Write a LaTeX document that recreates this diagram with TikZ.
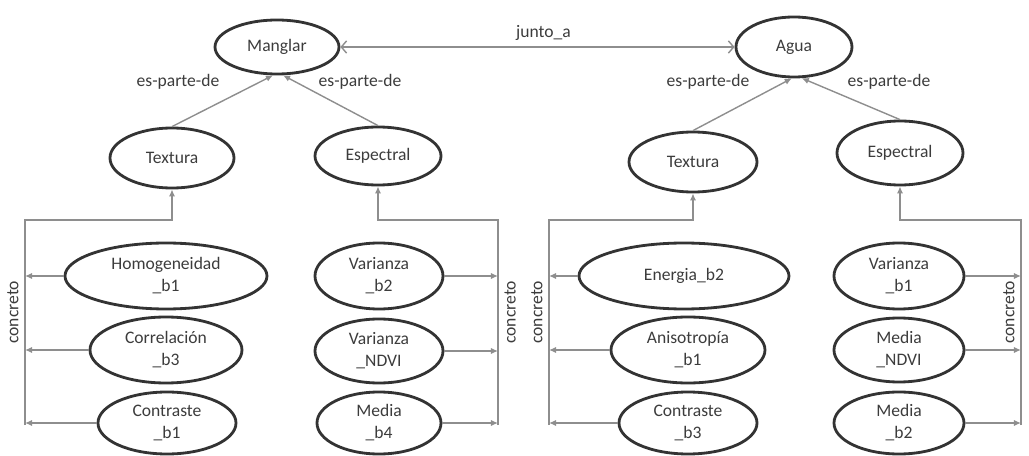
\documentclass[tikz,border=0pt]{standalone}
\usepackage{fontspec}
\setmainfont{Carlito}
\usetikzlibrary{arrows.meta, shapes.geometric, positioning}
\definecolor{ink}{HTML}{3C3C3C}
\definecolor{rim}{HTML}{333333}
\definecolor{wiregray}{HTML}{8E8E8E}

\begin{document}
\begin{tikzpicture}[x=0.02cm, y=-0.02cm,
  oval/.style 2 args={ellipse, draw=rim, line width=1.6pt, inner sep=0pt,
    minimum width=#1*\pu, minimum height=#2*\pu, align=center,
    text=ink, font=\fontsize{10}{12.5}\selectfont},
  lbl/.style={text=ink, font=\fontsize{10}{12}\selectfont},
  link/.style={draw=wiregray, line width=0.8pt},
  isa/.style={link, -{Latex[length=4pt,width=3.6pt]}},
  assoc/.style={link, {Straight Barb[length=3pt,width=7pt]}-{Straight Barb[length=3pt,width=7pt]}}]
  % one unit = one pixel of the 1029 x 456 sheet, y grows downwards
  \def\pu{0.02cm}
  \useasboundingbox (0,0) rectangle (1029,456);

  % classes
  \node[oval={124}{54}] (manglar) at (277,47) {Manglar};
  \node[oval={116}{60}] (agua)    at (794,47) {Agua};

  % descriptor groups
  \node[oval={124}{60}] (mtex) at (172,158) {Textura};
  \node[oval={126}{58}] (mesp) at (378,156) {Espectral};
  \node[oval={128}{60}] (atex) at (693,162) {Textura};
  \node[oval={126}{64}] (aesp) at (900,153) {Espectral};

  % Manglar leaves
  \node[oval={202}{66}] (homog)    at (166,276) {Homogeneidad\\\_b1};
  \node[oval={152}{66}] (correl)   at (166,350) {Correlación\\\_b3};
  \node[oval={138}{62}] (mcontr)   at (167,423) {Contraste\\\_b1};
  \node[oval={128}{66}] (mvarb2)   at (379,276) {Varianza\\\_b2};
  \node[oval={128}{64}] (mvarndvi) at (379,351) {Varianza\\\_NDVI};
  \node[oval={124}{62}] (mmedb4)   at (379,423) {Media\\\_b4};

  % Agua leaves
  \node[oval={210}{66}] (energ)    at (684,276) {Energia\_b2};
  \node[oval={154}{66}] (aniso)    at (688,350) {Anisotropía\\\_b1};
  \node[oval={138}{62}] (acontr)   at (688,423) {Contraste\\\_b3};
  \node[oval={130}{66}] (avarb1)   at (899,276) {Varianza\\\_b1};
  \node[oval={130}{64}] (amedndvi) at (899,350) {Media\\\_NDVI};
  \node[oval={130}{62}] (amedb2)   at (899,423) {Media\\\_b2};

  % bus lines
  \coordinate (mtTop) at (25,220);   \coordinate (mtBot) at (25,425);
  \coordinate (meTop) at (498,220);  \coordinate (meBot) at (498,425);
  \coordinate (atTop) at (549,220);  \coordinate (atBot) at (549,425);
  \coordinate (aeTop) at (1021,220); \coordinate (aeBot) at (1021,425);

  \draw[isa] (mtBot) -- node[pos=0.55, sloped, above, lbl] (mtCon) {concreto} (mtTop) -| (mtex.south);
  \draw[isa] (meBot) -- node[pos=0.55, sloped, below, lbl] (meCon) {concreto} (meTop) -| (mesp.south);
  \draw[isa] (atBot) -- node[pos=0.55, sloped, above, lbl] (atCon) {concreto} (atTop) -| (atex.south);
  % no room right of the last bus, so its label sits inside
  \draw[isa] (aeBot) -- node[pos=0.55, sloped, above, lbl] (aeCon) {concreto} (aeTop) -| (aesp.south);

  \foreach \n in {homog, correl, mcontr}
    \draw[isa] (\n.west) -- (\n.west -| mtTop);
  \foreach \n in {mvarb2, mvarndvi, mmedb4}
    \draw[isa] (\n.east) -- (\n.east -| meTop);
  \foreach \n in {energ, aniso, acontr}
    \draw[isa] (\n.west) -- (\n.west -| atTop);
  \foreach \n in {avarb1, amedndvi, amedb2}
    \draw[isa] (\n.east) -- (\n.east -| aeTop);

  % es-parte-de
  \draw[isa] (mtex.north) -- (manglar.262);
  \draw[isa] (mesp.north) -- (manglar.282);
  \draw[isa] (atex.north) -- (agua.266);
  \draw[isa] (aesp.north) -- (agua.284);
  \node[lbl] (mp1) at (178,82) {es-parte-de};
  \node[lbl] (mp2) at (360,82) {es-parte-de};
  \node[lbl] (ap1) at (708,82) {es-parte-de};
  \node[lbl] (ap2) at (889,82) {es-parte-de};

  % junto_a
  \draw[assoc] (manglar.east) -- node[pos=0.515, above, lbl] (junto) {junto\_a} (agua.west);
\end{tikzpicture}
\end{document}
